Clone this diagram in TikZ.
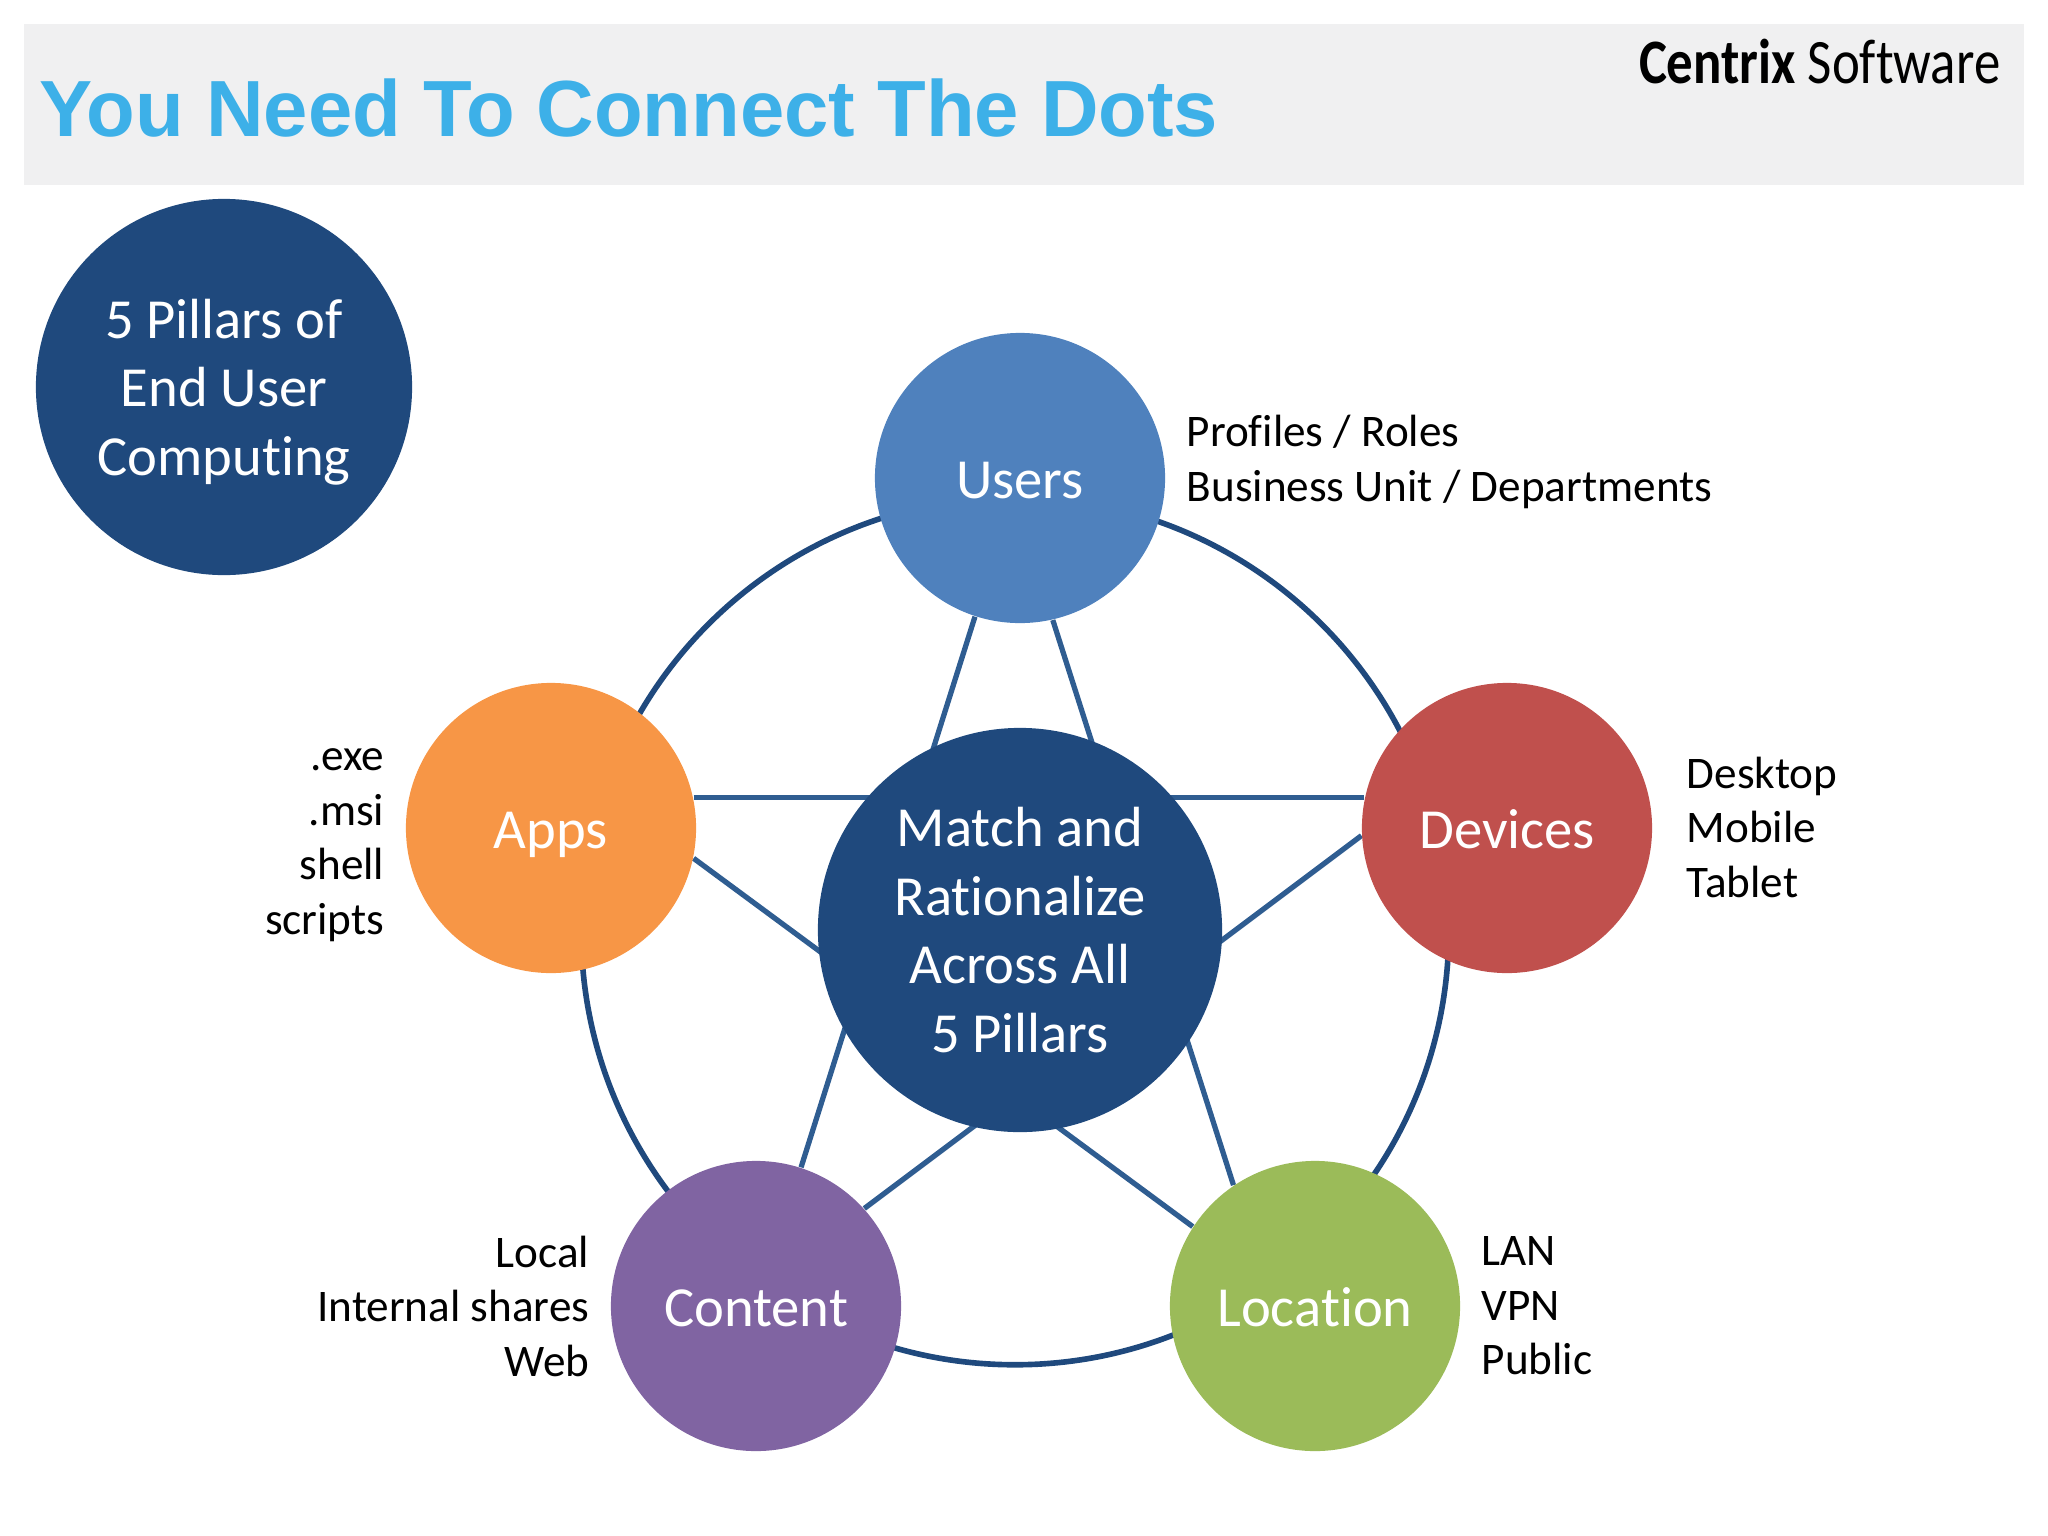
\documentclass[tikz,border=0pt]{standalone}
\usepackage{fontspec}
\setmainfont[Ligatures=NoCommon]{Carlito}
\newfontfamily\titlefont{Liberation Sans}
\usetikzlibrary{backgrounds}
\definecolor{darkblue}{HTML}{1F497D}
\definecolor{spokeblue}{HTML}{2F5D91}
\definecolor{usersblue}{HTML}{4F81BD}
\definecolor{appsorange}{HTML}{F79646}
\definecolor{devicesred}{HTML}{C0504D}
\definecolor{contentpurple}{HTML}{8064A2}
\definecolor{locationgreen}{HTML}{9BBB59}
\definecolor{headergrey}{HTML}{F0F0F1}
\definecolor{titleblue}{HTML}{3DB0E8}
\tikzstyle{pillar} = [circle, text=white, minimum size=2.9cm, inner sep=0pt,
    align=center, font=\fontsize{16.1}{19.5}\selectfont]
\tikzstyle{spot} = [pillar, text height=12.7pt, text depth=1pt]
\tikzstyle{hub} = [pillar, fill=darkblue, minimum size=4.04cm, text depth=0pt]
\tikzstyle{sidetext} = [inner sep=0pt, font=\fontsize{12.85}{15.5}\selectfont]
\tikzstyle{spoke} = [line width=1.5pt, spokeblue]
\begin{document}
\begin{tikzpicture}[x=0.01cm, y=-0.01cm]
    \useasboundingbox (0,0) rectangle (2048,1536);
    \fill[headergrey] (24,24) rectangle (2024,185);
    %header
    \node[anchor=base west, inner sep=0pt, text=titleblue, font=\titlefont\bfseries\fontsize{22.65}{27}\selectfont] (title) at (39,136) {You Need To Connect The Dots};
    \node[anchor=base east, inner sep=0pt, font=\fontsize{18}{21}\selectfont] (logo) at (2001,83) {\scalebox{.835}[1]{\textbf{Centrix} Software}};
    %circles
    \node[hub, minimum size=3.76cm] (pillars) at (224,387) {5 Pillars of\\End User\\Computing};
    \node[hub] (match) at (1020,930) {Match and\\Rationalize\\Across All\\5 Pillars};
    \node[spot, fill=usersblue] (users) at (1020,478) {Users};
    \node[spot, fill=appsorange] (apps) at (551,828) {Apps};
    \node[spot, fill=devicesred] (devices) at (1507,828) {Devices};
    \node[spot, fill=contentpurple] (content) at (756,1306) {Content};
    \node[spot, fill=locationgreen] (location) at (1315,1306) {Location};
    %labels
    \node[sidetext, anchor=west, align=left] (usersinfo) at (1186,462) {Profiles / Roles\\Business Unit / Departments};
    \node[sidetext, anchor=east, align=right] (appsinfo) at (385,845) {.exe\\.msi\\shell\\scripts};
    \node[sidetext, anchor=west, align=left] (devicesinfo) at (1686,827) {Desktop\\Mobile\\Tablet};
    \node[sidetext, anchor=east, align=right] (contentinfo) at (590,1306) {Local\\Internal shares\\Web};
    \node[sidetext, anchor=west, align=left] (locationinfo) at (1481,1306) {LAN\\VPN\\Public};
    %lines
    \begin{scope}[on background layer]
        \node[circle, draw=darkblue, line width=1.6pt, minimum size=8.67cm, inner sep=0pt] (ring) at (1015,931) {};
        \draw[spoke] (users.252.6) -- (content.72.9);
        \draw[spoke] (users.283) -- (location.124.8);
        \draw[spoke] (apps.12.3) -- (devices.168);
        \draw[spoke] (apps.348) -- (location.147.7);
        \draw[spoke] (devices.183.2) -- (content.42.8);
    \end{scope}
\end{tikzpicture}
\end{document}
